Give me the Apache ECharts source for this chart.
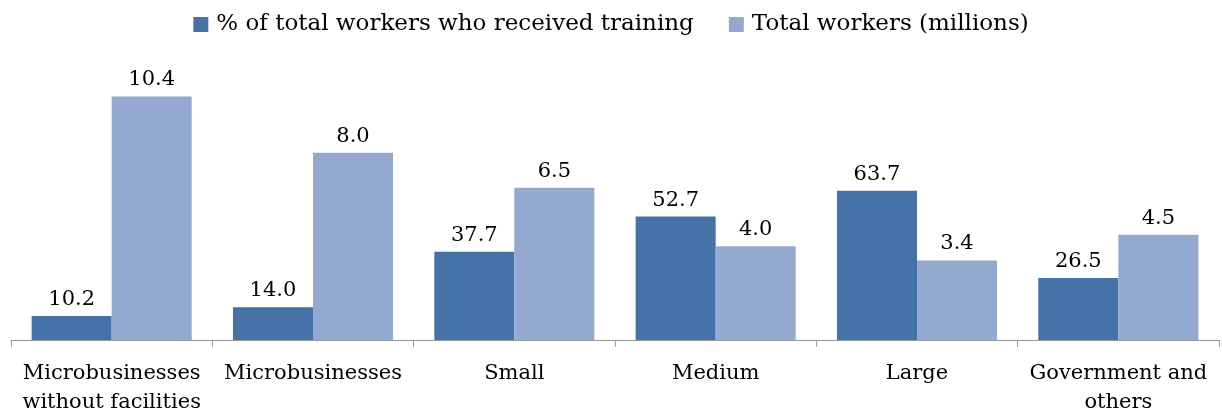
<!DOCTYPE html>
<html>
<head>
<meta charset="utf-8">
<script src="https://cdn.jsdelivr.net/npm/echarts@6/dist/echarts.min.js"></script>
<style>html,body{margin:0;padding:0;background:#fff}#c{width:1222px;height:418px}</style>
</head>
<body>
<div id="c"></div>
<script>
const categories = ['Microbusinesses\nwithout facilities', 'Microbusinesses', 'Small', 'Medium', 'Large', 'Government and\nothers'];
const pctTrained = [10.2, 14.0, 37.7, 52.7, 63.7, 26.5];
const totalWorkers = [10.4, 8.0, 6.5, 4.0, 3.4, 4.5];
const seriesNames = ['% of total workers who received training', 'Total workers (millions)'];

const FONT = 'DejaVu Serif';
const chart = echarts.init(document.getElementById('c'), null, {renderer: 'canvas'});
const lbl = {show: true, position: 'top', distance: 6, color: '#000', fontFamily: FONT, fontSize: 21, formatter: p => p.value.toFixed(1)};
chart.setOption({
  animation: false,
  legend: {
    top: 8, left: 'center', itemWidth: 15, itemHeight: 15, itemGap: 35, icon: 'rect',
    textStyle: {fontFamily: FONT, fontSize: 23, color: '#000', padding: [0, 0, 0, 3]},
    data: seriesNames
  },
  grid: {left: 11, right: 3, top: 59, bottom: 78, containLabel: false},
  xAxis: {
    type: 'category', data: categories,
    axisLine: {lineStyle: {color: '#999', width: 1}},
    axisTick: {show: true, length: 7, lineStyle: {color: '#999'}},
    axisLabel: {interval: 0, margin: 19, color: '#000', fontFamily: FONT, fontSize: 21, lineHeight: 29}
  },
  yAxis: [
    {type: 'value', min: 0, max: 120, show: false, splitLine: {show: false}},
    {type: 'value', min: 0, max: 12, show: false, splitLine: {show: false}}
  ],
  series: [
    {name: seriesNames[0], type: 'bar', yAxisIndex: 0, data: pctTrained, barGap: '0%', barCategoryGap: '20.5%',
     itemStyle: {color: '#4572A7'}, label: lbl},
    {name: seriesNames[1], type: 'bar', yAxisIndex: 1, data: totalWorkers, barGap: '0%', barCategoryGap: '20.5%',
     itemStyle: {color: '#93A9CF'}, label: lbl}
  ]
});
</script>
</body>
</html>
